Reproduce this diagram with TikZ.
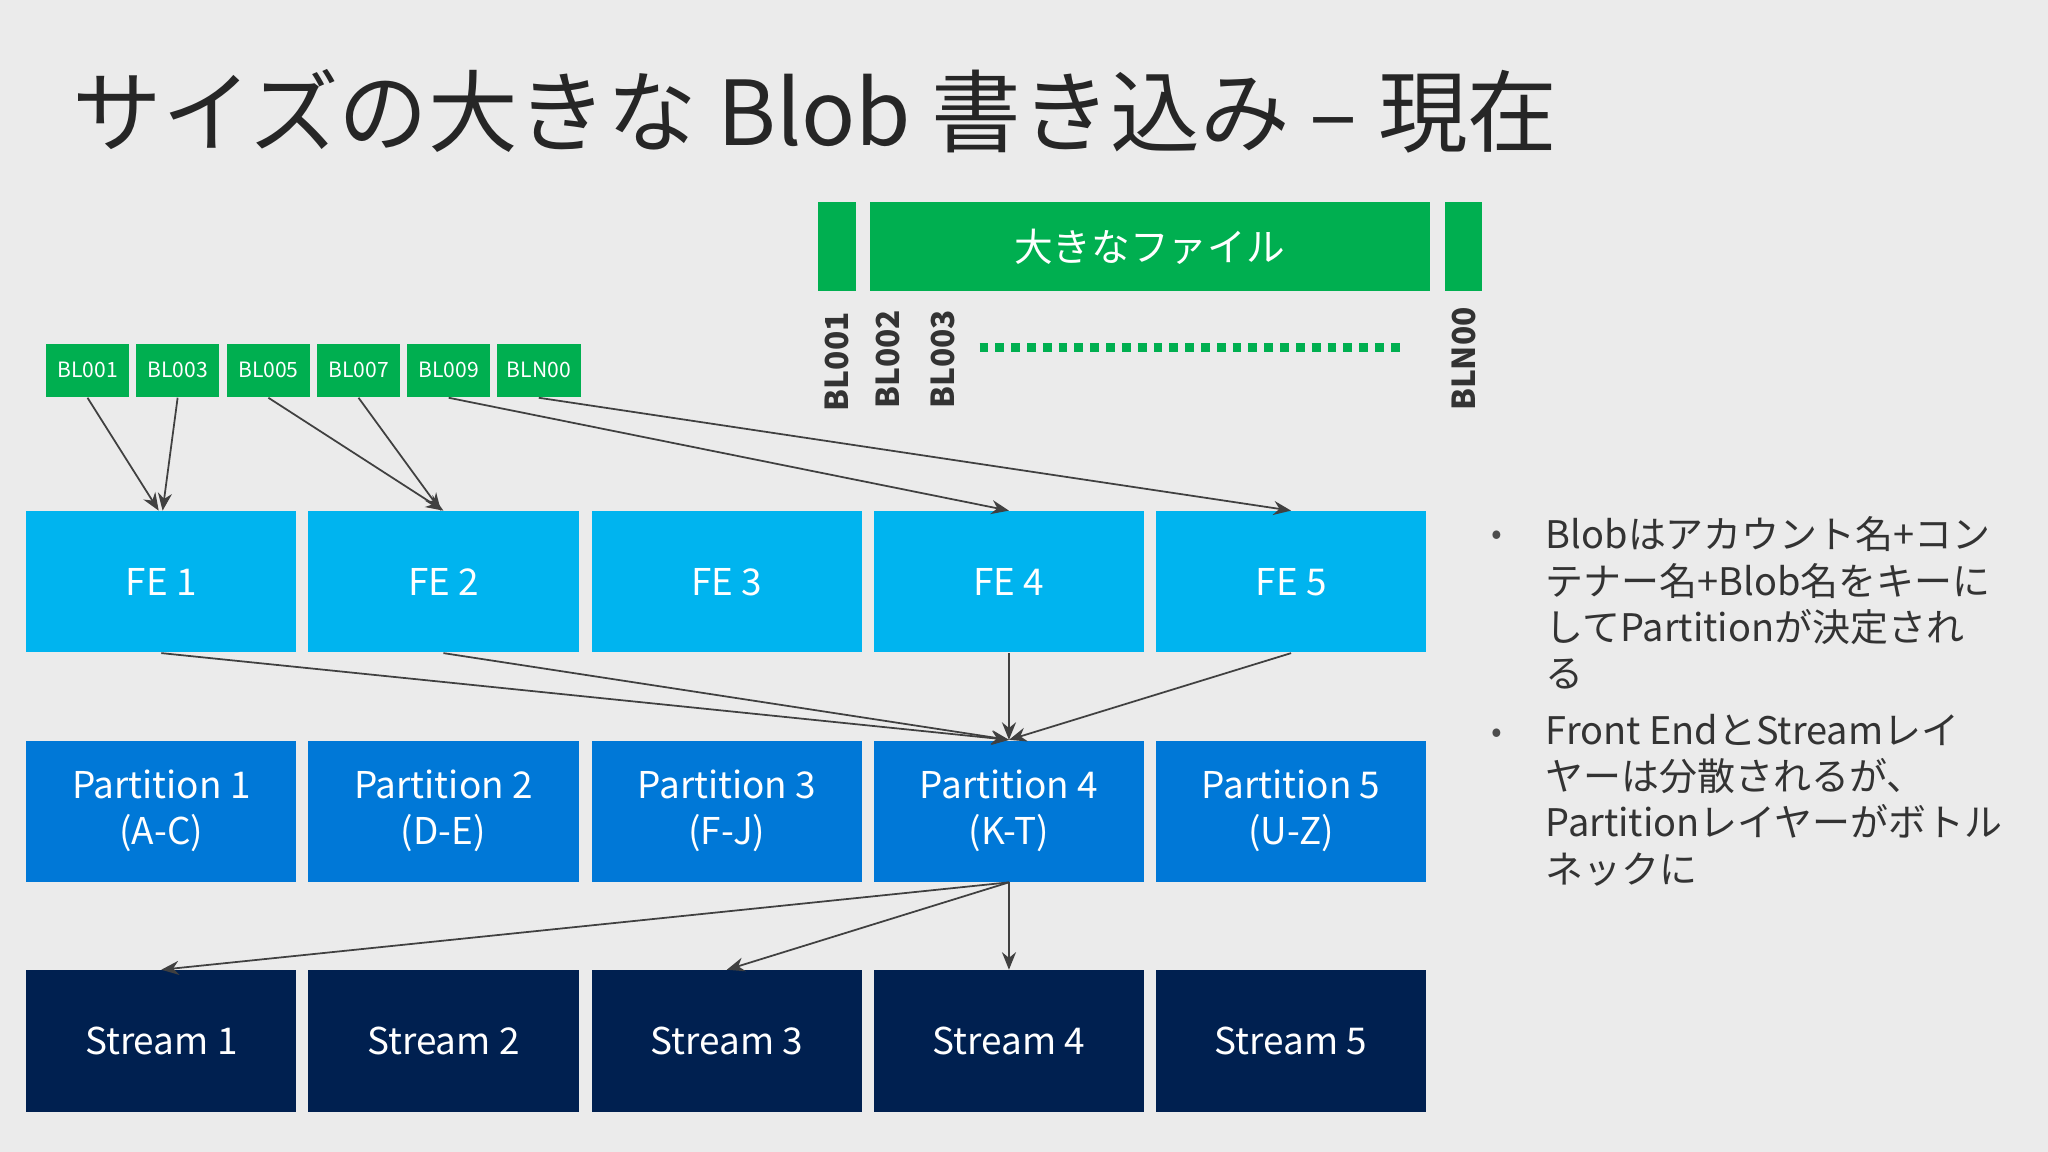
\documentclass[tikz,border=0pt]{standalone}
\usepackage{fontspec}
\setmainfont{Noto Sans CJK JP}
\usetikzlibrary{arrows.meta}
\definecolor{bg}{HTML}{EBEBEB}
\definecolor{grn}{HTML}{00AF50}
\definecolor{fec}{HTML}{00B4EF}
\definecolor{ptc}{HTML}{0078D7}
\definecolor{stc}{HTML}{002050}
\begin{document}
\begin{tikzpicture}[x=0.013061cm,y=-0.013061cm,
  box/.style={draw=none,minimum width=207*0.013061cm,minimum height=108*0.013061cm,
    text=white,font=\fontsize{10.5}{13}\selectfont,align=center,inner sep=0},
  bl/.style={fill=grn,minimum width=64*0.013061cm,minimum height=41*0.013061cm,
    text=white,font=\fontsize{6}{7}\selectfont,inner sep=0},
  vl/.style={rotate=90,font=\bfseries\fontsize{9}{10}\selectfont,text=black!80,inner sep=0},
  bul/.style={anchor=north west,text=black!80,align=left,font=\fontsize{10.8}{13.2}\selectfont,inner sep=0},
  con/.style={draw=black!75,-{Stealth[length=5pt,width=4pt]},line width=0.5pt}]
\fill[bg] (0,0) rectangle (1568,882);
\useasboundingbox (0,0) rectangle (1568,882);
\node[anchor=west,font=\fontsize{25.5}{30}\selectfont,text=black!85,inner sep=0] (title) at (55,85) {サイズの大きな Blob 書き込み – 現在};
% green bars
\fill[grn] (626,155) rectangle (655,223);
\fill[grn] (666,155) rectangle (1095,223);
\fill[grn] (1106,155) rectangle (1135,223);
\node[text=white,font=\fontsize{11}{13}\selectfont] (file) at (880,189) {大きなファイル};
\node[vl] (v1) at (641,277) {BL001};
\node[vl] (v2) at (680,275) {BL002};
\node[vl] (v3) at (722,275) {BL003};
\node[vl] (vn) at (1121,275) {BLN00};
\draw[grn,line width=2.5pt,dash pattern=on 2.5pt off 2pt] (750,266) -- (1075,266);
% blocks
\foreach \n/\x/\t in {b1/67/BL001,b2/136/BL003,b3/205.5/BL005,b4/274.5/BL007,b5/343.5/BL009,b6/412.5/BLN00}
  \node[bl] (\n) at (\x,283.5) {\t};
% rows
\foreach \i/\x in {1/123.5,2/339.5,3/556.5,4/772.5,5/988.5}{
  \node[box,fill=fec] (fe\i) at (\x,445.5) {FE \i};
  \node[box,fill=stc] (st\i) at (\x,797) {Stream \i};
}
\node[box,fill=ptc] (p1) at (123.5,621) {Partition 1\\(A-C)};
\node[box,fill=ptc] (p2) at (339.5,621) {Partition 2\\(D-E)};
\node[box,fill=ptc] (p3) at (556.5,621) {Partition 3\\(F-J)};
\node[box,fill=ptc] (p4) at (772.5,621) {Partition 4\\(K-T)};
\node[box,fill=ptc] (p5) at (988.5,621) {Partition 5\\(U-Z)};
% connectors
\draw[con] (b1.south) -- ([xshift=-2*0.013061cm]fe1.north);
\draw[con] (b2.south) -- ([xshift=1*0.013061cm]fe1.north);
\draw[con] (b3.south) -- (fe2.north);
\draw[con] (b4.south) -- ([xshift=-2*0.013061cm]fe2.north);
\draw[con] (b5.south) -- (fe4.north);
\draw[con] (b6.south) -- (fe5.north);
\foreach \f in {fe1,fe2,fe4,fe5} \draw[con] (\f.south) -- (p4.north);
\draw[con] (p4.south) -- (st1.north);
\draw[con] (p4.south) -- (st3.north);
\draw[con] (p4.south) -- (st4.north);
% bullets
\node[bul] (t1) at (1183,395)
  {Blobはアカウント名+コン\\テナー名+Blob名をキーに\\してPartitionが決定され\\る};
\node[bul] (t2) at (1183,546)
  {Front EndとStreamレイ\\ヤーは分散されるが、\\Partitionレイヤーがボトル\\ネックに};
\node[text=black!70,font=\small] (d1) at (1146,412) {•};
\node[text=black!70,font=\small] (d2) at (1146,563) {•};
\end{tikzpicture}
\end{document}
